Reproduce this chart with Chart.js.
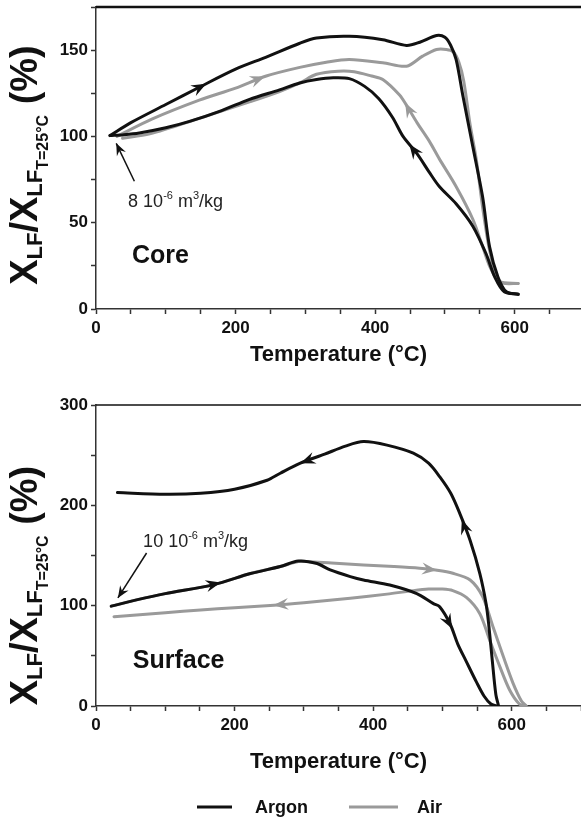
<!DOCTYPE html>
<html>
<head>
<meta charset="utf-8">
<script src="https://cdn.jsdelivr.net/npm/chart.js@4.4.1/dist/chart.umd.min.js"></script>
<style>
  body { margin: 0; background: #fff; width: 581px; height: 819px; overflow: hidden; position: relative; }
  canvas { position: absolute; left: 0; }
  #core { top: 0; }
  #surface { top: 380px; }
</style>
</head>
<body>
<canvas id="core" width="581" height="380"></canvas>
<canvas id="surface" width="581" height="439"></canvas>
<script>
// ---- data (temperature in °C, X_LF normalised in %) ----
// Core sample
const coreArgonHeatT = [20, 50, 100, 148, 200, 244, 292, 316, 363, 411, 445, 464, 488, 500, 508, 516, 526, 540, 554, 564, 576, 588, 605];
const coreArgonHeatY = [100.5, 108, 118.5, 128.5, 139, 146, 154, 157, 158, 156, 152.7, 154.6, 158.5, 157.5, 153, 144.6, 123, 94, 65, 36, 18.6, 10, 8.5];
const coreArgonCoolT = [20, 40, 62, 100, 134, 180, 220, 263, 292, 316, 340, 363, 385, 405, 425, 440, 460, 478, 492, 516, 540, 559, 572, 585, 605];
const coreArgonCoolY = [100.5, 101, 102, 105, 108.7, 115, 121.5, 127, 131, 133, 134, 133.5, 129, 122, 111, 100, 90, 79, 71, 61, 48, 32, 18, 10, 8.5];
const coreAirHeatT = [30, 80, 148, 200, 244, 292, 330, 363, 411, 445, 468, 488, 502, 512, 520, 527, 536, 545, 554, 564, 574, 583, 605];
const coreAirHeatY = [100, 110, 121, 128, 135, 140, 143, 144.6, 142.7, 140.7, 146.5, 150.4, 150.4, 149, 143, 132, 107, 86.5, 59, 34, 19, 15, 14.8];
const coreAirCoolT = [38, 77, 148, 220, 263, 292, 316, 347, 370, 395, 411, 435, 445, 460, 478, 492, 516, 540, 555, 565, 578, 605];
const coreAirCoolY = [99, 101.5, 110.5, 120, 126, 131, 136, 137.8, 137.5, 135, 133, 124, 118, 108, 97, 87, 71, 52, 35, 24, 16, 14.8];

// Surface sample
const surfArgonHeatT = [22, 60, 100, 170, 223, 266, 292, 319, 338, 367, 386, 424, 463, 487, 496, 511, 522, 534, 549, 560, 570, 578];
const surfArgonHeatY = [99.5, 106, 112, 121, 132, 139, 144.5, 142, 135.6, 129, 125.6, 120.6, 112, 102, 99, 82, 62, 45, 24, 10, 2, 0];
const surfArgonCoolT = [31, 100, 151, 200, 247, 266, 295, 330, 360, 386, 420, 458, 480, 496, 512, 525, 540, 554, 563, 567, 572, 577, 581];
const surfArgonCoolY = [212.7, 211, 212, 216, 225, 232, 242, 251, 259, 263.5, 260, 252, 242, 228.6, 212, 192, 165, 132, 102, 80, 45, 12, 0];
const surfAirHeatT = [22, 60, 100, 170, 223, 266, 292, 305, 340, 386, 430, 467, 490, 515, 540, 558, 573, 588, 602, 614, 621];
const surfAirHeatY = [99.5, 106, 112, 121, 132, 139, 144, 144, 142.5, 140.6, 139, 137.3, 135.5, 132.3, 125.6, 109, 79, 49, 22.6, 5, 0];
const surfAirCoolT = [26, 100, 151, 200, 257, 300, 367, 420, 458, 480, 500, 515, 535, 554, 568, 583, 597, 611, 620];
const surfAirCoolY = [89, 93, 95.7, 98, 100.5, 103, 107.4, 111.5, 115, 116.5, 116.5, 115, 108, 92, 66, 39, 16, 2, 0];

// direction arrows on the curves: [tail T, tail Y] -> [tip T, tip Y]
const coreArrows = [
  { s: 'Argon', from: [130, 124.5], to: [158, 130.5] },
  { s: 'Air', from: [215, 130.5], to: [242, 134.7] },
  { s: 'Air', from: [465, 103], to: [443, 119.5] },
  { s: 'Argon', from: [475, 81], to: [449, 95.5] }
];
const surfArrows = [
  { s: 'Argon', from: [150, 118], to: [180, 123] },
  { s: 'Argon', from: [330, 251], to: [295, 242] },
  { s: 'Argon', from: [545, 152], to: [528, 186] },
  { s: 'Argon', from: [500, 95], to: [514, 77] },
  { s: 'Air', from: [460, 137.8], to: [492, 135.3] },
  { s: 'Air', from: [290, 102.5], to: [256, 100.5] }
];

// pointer to the starting value, and the starting susceptibility noted beside it
const corePointer = { from: [55, 74], to: [29, 96], note: '8', at: [46, 59] };
const surfPointer = { from: [73, 152.5], to: [31.6, 107.7], note: '10', at: [68, 158.5] };

const seriesNames = ['Argon', 'Air'];

// ---- styling ----
const FONT = '"Liberation Sans", Arial, Helvetica, sans-serif';
const COLORS = { Argon: '#111111', Air: '#9a9a9a' };
Chart.defaults.font.family = FONT;

function pts(t, v) {
  return t.map((x, i) => ({ x: x, y: v[i] }));
}

function curve(name, t, v) {
  return {
    label: name,
    data: pts(t, v),
    borderColor: COLORS[name],
    backgroundColor: COLORS[name],
    borderWidth: 3,
    pointRadius: 0,
    fill: false,
    tension: 0.3,
    borderCapStyle: 'round',
    borderJoinStyle: 'round'
  };
}

function arrowHead(ctx, x1, y1, x2, y2, len, half, color) {
  const a = Math.atan2(y2 - y1, x2 - x1);
  ctx.save();
  ctx.translate(x2, y2);
  ctx.rotate(a);
  ctx.beginPath();
  ctx.moveTo(0, 0);
  ctx.lineTo(-len, -half);
  ctx.lineTo(-len * 0.65, 0);
  ctx.lineTo(-len, half);
  ctx.closePath();
  ctx.fillStyle = color;
  ctx.fill();
  ctx.restore();
}

// text with sub/superscripts, parts = [{t, size, dy}]
function richWidth(ctx, parts, weight) {
  let w = 0;
  parts.forEach(p => {
    ctx.font = `${weight} ${p.size}px ${FONT}`;
    w += ctx.measureText(p.t).width;
  });
  return w;
}
function richText(ctx, parts, x, y, weight) {
  let cx = x;
  parts.forEach(p => {
    ctx.font = `${weight} ${p.size}px ${FONT}`;
    ctx.fillText(p.t, cx, y + (p.dy || 0));
    cx += ctx.measureText(p.t).width;
  });
}

const yTitleParts = [
  { t: 'X', size: 38 },
  { t: 'LF', size: 22, dy: 5 },
  { t: '/X', size: 38 },
  { t: 'LF', size: 22, dy: 5 },
  { t: 'T=25°C', size: 16, dy: 11 },
  { t: ' (%)', size: 38 }
];

const decor = {
  id: 'decor',
  afterDatasetsDraw(chart, args, o) {
    const { ctx, chartArea: a } = chart;
    const x = chart.scales.x, y = chart.scales.y;
    const px = v => x.getPixelForValue(v[0]);
    const py = v => y.getPixelForValue(v[1]);
    ctx.save();

    // frame line along the top of the plot
    ctx.strokeStyle = '#111';
    ctx.lineWidth = o.frameWidth;
    ctx.beginPath();
    ctx.moveTo(a.left, a.top);
    ctx.lineTo(a.right, a.top);
    ctx.stroke();

    // flow direction arrows
    o.arrows.forEach(r => {
      arrowHead(ctx, px(r.from), py(r.from), px(r.to), py(r.to), 15, 6, COLORS[r.s]);
    });

    // pointer to the start value
    const p = o.pointer;
    ctx.strokeStyle = '#111';
    ctx.lineWidth = 1.5;
    ctx.beginPath();
    ctx.moveTo(px(p.from), py(p.from));
    ctx.lineTo(px(p.to), py(p.to));
    ctx.stroke();
    arrowHead(ctx, px(p.from), py(p.from), px(p.to), py(p.to), 12, 5, '#111');

    ctx.fillStyle = '#222';
    ctx.textBaseline = 'alphabetic';
    ctx.textAlign = 'left';
    richText(ctx, [
      { t: p.note + ' 10', size: 18 },
      { t: '-6', size: 11, dy: -8 },
      { t: ' m', size: 18 },
      { t: '3', size: 11, dy: -8 },
      { t: '/kg', size: 18 }
    ], px(p.at), py(p.at), 'normal');

    // panel name
    ctx.fillStyle = '#111';
    ctx.font = `bold 25px ${FONT}`;
    ctx.fillText(o.name, px(o.nameAt), py(o.nameAt));

    // y axis title
    ctx.save();
    ctx.translate(o.yTitleX, (a.top + a.bottom) / 2 + o.yTitleShift);
    ctx.rotate(-Math.PI / 2);
    const w = richWidth(ctx, yTitleParts, 'bold');
    richText(ctx, yTitleParts, -w / 2, 0, 'bold');
    ctx.restore();

    // shared legend
    if (o.legendY) {
      ctx.lineWidth = 3;
      ctx.font = `bold 18px ${FONT}`;
      ctx.textBaseline = 'middle';
      o.legendItems.forEach((it, i) => {
        ctx.strokeStyle = COLORS[seriesNames[i]];
        ctx.beginPath();
        ctx.moveTo(it[0], o.legendY);
        ctx.lineTo(it[1], o.legendY);
        ctx.stroke();
        ctx.fillStyle = '#111';
        ctx.fillText(seriesNames[i], it[2], o.legendY + 1);
      });
    }
    ctx.restore();
  }
};

function makeScales(xMax, yMax, yStep, yEvery, xHeight, titlePad) {
  const tickFont = { family: FONT, size: 17, weight: 'bold' };
  return {
    x: {
      type: 'linear', min: 0, max: xMax,
      ticks: {
        stepSize: 50, includeBounds: false, autoSkip: false, maxRotation: 0,
        padding: 4, color: '#111', font: tickFont,
        callback: v => (v % 200 === 0 ? v : '')
      },
      grid: { drawOnChartArea: false, tickLength: 5, color: '#333', tickWidth: 1.5 },
      border: { color: '#333', width: 1.5 },
      title: {
        display: true, text: 'Temperature (°C)', color: '#111',
        font: { family: FONT, size: 22, weight: 'bold' },
        padding: { top: 0, bottom: titlePad }
      },
      afterFit: s => { s.height = xHeight; s.paddingLeft = 0; s.paddingRight = 0; }
    },
    y: {
      type: 'linear', min: 0, max: yMax,
      ticks: {
        stepSize: yStep, includeBounds: false, autoSkip: false,
        padding: 3, color: '#111', font: tickFont,
        callback: v => (v % yEvery === 0 ? v : '')
      },
      grid: { drawOnChartArea: false, tickLength: 5, color: '#333', tickWidth: 1.5 },
      border: { color: '#333', width: 1.5 },
      afterFit: s => { s.width = 96; s.paddingTop = 0; s.paddingBottom = 0; }
    }
  };
}

// Chart.js paints the first dataset on top, so the Argon curves come first
new Chart(document.getElementById('core'), {
  type: 'line',
  data: {
    datasets: [
      curve('Argon', coreArgonHeatT, coreArgonHeatY),
      curve('Argon', coreArgonCoolT, coreArgonCoolY),
      curve('Air', coreAirHeatT, coreAirHeatY),
      curve('Air', coreAirCoolT, coreAirCoolY)
    ]
  },
  options: {
    responsive: false,
    animation: false,
    devicePixelRatio: 1,
    layout: { padding: { top: 7, right: 0, bottom: 0, left: 0 } },
    scales: makeScales(695, 175, 25, 50, 71, 12),
    plugins: {
      legend: { display: false },
      tooltip: { enabled: false },
      decor: {
        arrows: coreArrows, pointer: corePointer, frameWidth: 2.5,
        name: 'Core', nameAt: [51.6, 26.5],
        yTitleX: 37, yTitleShift: 7
      }
    }
  },
  plugins: [decor]
});

new Chart(document.getElementById('surface'), {
  type: 'line',
  data: {
    datasets: [
      curve('Argon', surfArgonHeatT, surfArgonHeatY),
      curve('Argon', surfArgonCoolT, surfArgonCoolY),
      curve('Air', surfAirHeatT, surfAirHeatY),
      curve('Air', surfAirCoolT, surfAirCoolY)
    ]
  },
  options: {
    responsive: false,
    animation: false,
    devicePixelRatio: 1,
    layout: { padding: { top: 25, right: 0, bottom: 31, left: 0 } },
    scales: makeScales(700, 300, 50, 100, 82, 13),
    plugins: {
      legend: { display: false },
      tooltip: { enabled: false },
      decor: {
        arrows: surfArrows, pointer: surfPointer, frameWidth: 1.5,
        name: 'Surface', nameAt: [53, 38],
        yTitleX: 37, yTitleShift: 30,
        legendY: 427,
        legendItems: [[197, 232, 255], [349, 398, 417]]
      }
    }
  },
  plugins: [decor]
});
</script>
</body>
</html>
